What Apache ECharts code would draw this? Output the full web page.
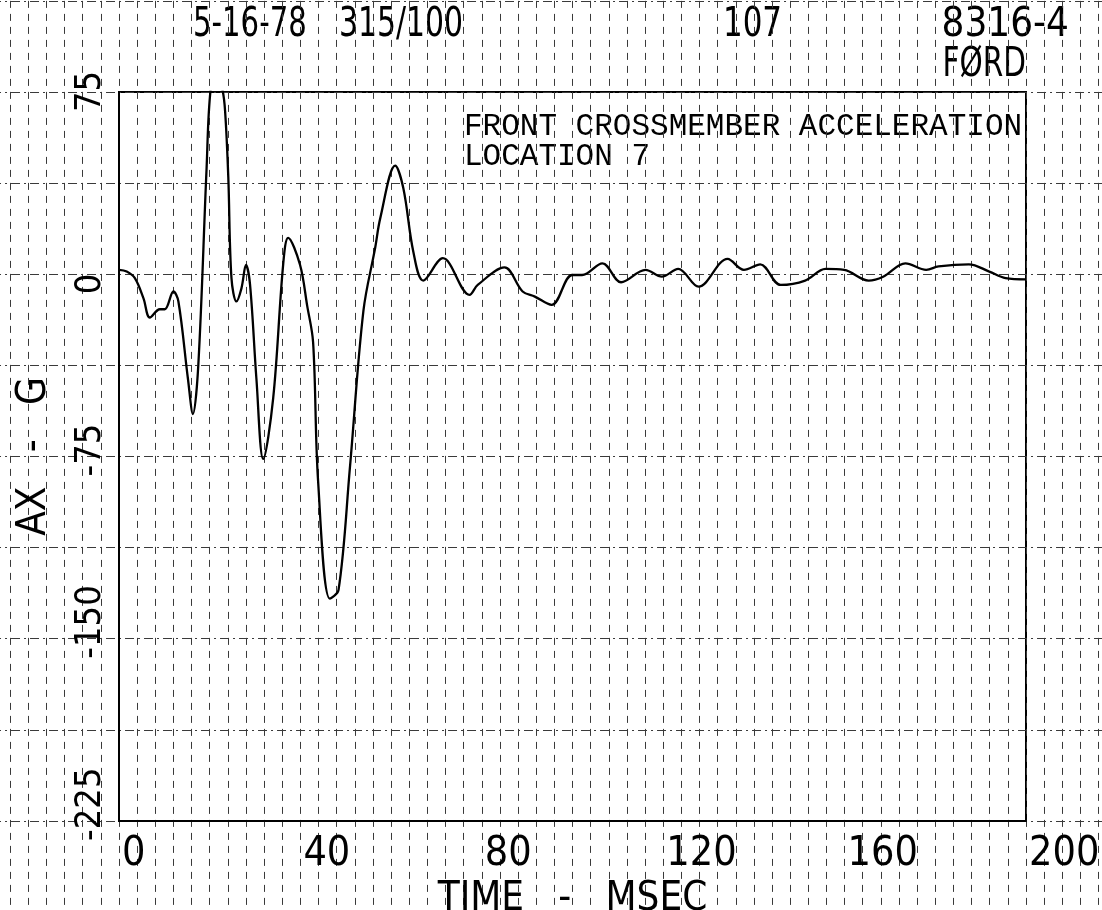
<!DOCTYPE html>
<html>
<head>
<meta charset="utf-8">
<script src="https://cdn.jsdelivr.net/npm/echarts@6/dist/echarts.min.js"></script>
<style>
html,body{margin:0;padding:0;background:#fff;}
#chart{width:1102px;height:910px;}
</style>
</head>
<body>
<div id="chart"></div>
<script>
// ---- data ----
const timeMs = [0, 1.7, 3.5, 5.4, 6.8, 9.0, 10.1, 12.0, 13.1, 15.2, 16.3, 17.5, 19.3, 20.2, 21.5, 22.8, 23.4, 24.1, 24.8, 25.9,
  27.0, 28.0, 28.9, 30.3, 31.8, 34.0, 36.2, 37.3, 39.9, 41.5, 42.8, 43.9, 46.5, 48.4, 50.9, 53.9, 56.5, 57.6, 60.9, 62.7,
  64.9, 67.1, 71.4, 77.3, 79.1, 85.0, 89.0, 91.7, 95.4, 99.9, 102.1, 106.6, 110.7, 116.1, 119.7, 123.3, 127.8, 134.2, 137.8, 141.4,
  145.9, 151.3, 155.8, 159.9, 165.3, 168.5, 173.4, 178.0, 180.7, 187.4, 191.9, 195.5, 200];
const accelG = [1.8, 1.1, -1.6, -9.9, -17.8, -14.4, -14.4, -7.1, -11.2, -43, -57.5, -37, 43, 76, 82, 76, 67, 40, -1.6, -11.2,
  -5.8, 3.8, -4.4, -43, -76, -51, 4, 15, 4, -13, -28, -85, -133.5, -130, -80, -15, 11, 23, 44.7, 35.4,
  9.3, -2.6, 6.6, -8.5, -4.4, 2.8, -7.1, -9.2, -12.6, -0.3, -0.3, 4.5, -3.3, 1.8, -1, 2.2, -5.1, 6.3, 1.8, 4.1,
  -4.4, -2.6, 2.2, 1.8, -2.6, -1, 4.5, 1.8, 3.2, 4.1, 1.1, -1.6, -2.1];
const xTickValues = [0, 40, 80, 120, 160, 200];
const yTickValues = [-225, -150, -75, 0, 75];
const headerTexts = ['5-16-78', '315/100', '107', '8316-4', 'FØRD'];
const titleLines = ['FRONT CROSSMEMBER ACCELERATION', 'LOCATION 7'];
const xName = 'TIME   -   MSEC';
const yName = 'AX   -   G';

const NARROW = '"Liberation Sans Narrow", "DejaVu Sans Condensed", "Liberation Sans", sans-serif';
const MONO = '"Liberation Mono", "DejaVu Sans Mono", monospace';

const series = [{
  type: 'line',
  xAxisIndex: 1, yAxisIndex: 1,
  data: timeMs.map((t, i) => [t, accelG[i]]),
  showSymbol: false,
  smooth: 0.35,
  clip: true,
  lineStyle: { color: '#000', width: 2.3 }
}];

function hdr(text, x, y, align, sx) {
  return { type: 'text', x: x, y: y, scaleX: sx, scaleY: 1,
    style: { text: text, x: 0, y: 0, font: '40px ' + NARROW, fill: '#000', align: align, verticalAlign: 'middle' } };
}

const option = {
  animation: false,
  backgroundColor: '#fff',
  grid: [
    // paper grid covering the whole sheet
    { left: -7.98, right: -14.7, top: 0.9, bottom: -2.1, show: false, containLabel: false, outerBoundsMode: 'none' },
    // the plot
    { left: 119, right: 76, top: 92, bottom: 89, show: true, borderColor: '#000', borderWidth: 2,
      backgroundColor: 'transparent', containLabel: false, outerBoundsMode: 'none' },
    // y labels (plotter offsets them below their ticks)
    { left: 119, right: 76, top: 112, bottom: 69, show: false, containLabel: false, outerBoundsMode: 'none' }
  ],
  xAxis: [
    { gridIndex: 0, type: 'value', min: -28, max: 220, interval: 4,
      axisLine: { show: false }, axisTick: { show: false }, axisLabel: { show: false },
      splitLine: { show: true, lineStyle: { color: '#3a3a3a', width: 1, type: [7, 6] } } },
    { gridIndex: 1, type: 'value', min: 0, max: 200, interval: 40,
      axisLine: { show: true, onZero: false, lineStyle: { color: '#000', width: 2 } },
      axisTick: { show: false },
      splitLine: { show: false },
      axisLabel: { show: true, align: 'left', margin: 13, padding: [0, 0, 0, 3], color: '#000',
        fontFamily: NARROW, fontSize: 41,
        formatter: v => xTickValues.includes(v) ? String(v) : '' },
      name: xName, nameLocation: 'middle', nameGap: 40,
      nameTextStyle: { color: '#000', fontFamily: NARROW, fontSize: 40 } },
    { gridIndex: 2, type: 'value', min: 0, max: 200, show: false }
  ],
  yAxis: [
    { gridIndex: 0, type: 'value', min: -262.5, max: 112.5, interval: 37.5,
      axisLine: { show: false }, axisTick: { show: false }, axisLabel: { show: false },
      splitLine: { show: true, lineStyle: { color: '#3a3a3a', width: 1, type: [9, 4, 2, 4] } } },
    { gridIndex: 1, type: 'value', min: -225, max: 75, interval: 75,
      axisLine: { show: true, onZero: false, lineStyle: { color: '#000', width: 2 } },
      axisTick: { show: false }, splitLine: { show: false }, axisLabel: { show: false },
      name: yName, nameLocation: 'middle', nameGap: 84, nameRotate: 90,
      nameTextStyle: { color: '#000', fontFamily: NARROW, fontSize: 40, verticalAlign: 'middle' } },
    { gridIndex: 2, type: 'value', min: -225, max: 75, interval: 75,
      axisLine: { show: false }, axisTick: { show: false }, splitLine: { show: false },
      axisLabel: { show: true, rotate: 90, align: 'left', verticalAlign: 'middle', margin: 28,
        color: '#000', fontFamily: NARROW, fontSize: 36,
        formatter: v => yTickValues.includes(v) ? String(v) : '' } }
  ],
  graphic: [
    hdr(headerTexts[0], 193, 26, 'left', 0.81),
    hdr(headerTexts[1], 339, 26, 'left', 0.83),
    hdr(headerTexts[2], 723, 26, 'left', 0.86),
    hdr(headerTexts[3], 1069, 26, 'right', 1.0),
    hdr(headerTexts[4], 1026, 66, 'right', 0.82),
    { type: 'text', x: 464, y: 127, style: { text: titleLines[0], x: 0, y: 0, font: '31px ' + MONO, fill: '#000', align: 'left', verticalAlign: 'middle' } },
    { type: 'text', x: 464, y: 157, style: { text: titleLines[1], x: 0, y: 0, font: '31px ' + MONO, fill: '#000', align: 'left', verticalAlign: 'middle' } }
  ],
  series: series
};

const chart = echarts.init(document.getElementById('chart'), null, { renderer: 'canvas' });
chart.setOption(option);
</script>
</body>
</html>
